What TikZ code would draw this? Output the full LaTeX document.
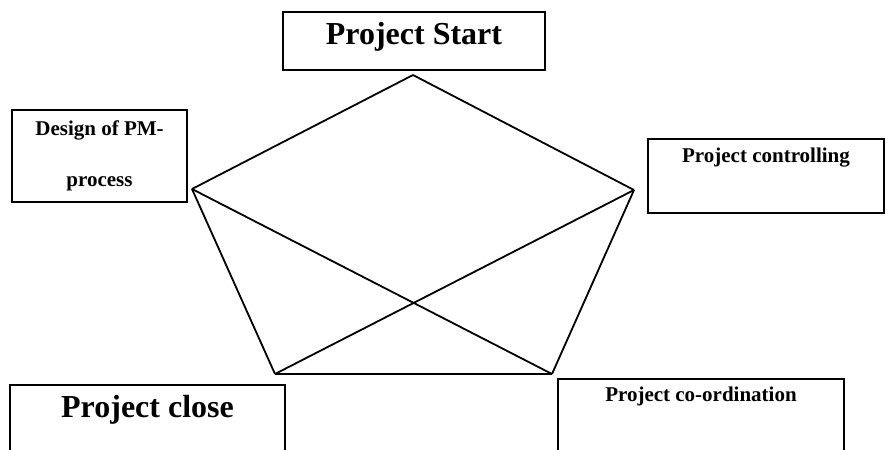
\documentclass[tikz,border=0pt]{standalone}
\usepackage{fontspec}
\setmainfont{Liberation Serif}
\begin{document}
\begin{tikzpicture}[x=1pt,y=-1pt,
  box/.style={draw, rectangle, align=center, line width=1.8pt, inner ysep=0pt},
  bigtext/.style={font=\bfseries\fontsize{32}{38}\selectfont},
  smalltext/.style={font=\bfseries\fontsize{21}{51}\selectfont},
  edge/.style={line width=1.8pt}]
\clip (0,0) rectangle (895,450);

\node[box, bigtext, anchor=north, minimum width=262pt, text height=33pt, text depth=25pt] (start) at (414,11) {Project Start};
\node[box, smalltext, minimum width=175pt, minimum height=92pt] (design) at (99.5,156) {Design of PM-\\process};
\node[box, smalltext, anchor=north, minimum width=236pt, text height=24pt, text depth=50pt] (ctrl) at (766,138) {Project controlling};
\node[box, bigtext, anchor=north, minimum width=275pt, text height=33pt, text depth=80pt] (close) at (147.5,384) {Project close};
\node[box, smalltext, anchor=north, minimum width=286pt, text height=23pt, text depth=80pt] (coord) at (701,378) {Project co-ordination};

\coordinate (top) at (413,75);
\coordinate (left) at (192,189);
\coordinate (right) at (634,190);
\coordinate (botleft) at (275,374);
\coordinate (botright) at (552,374);

\draw[edge] (top) -- (left);
\draw[edge] (top) -- (right);
\draw[edge] (left) -- (botleft);
\draw[edge] (right) -- (botright);
\draw[edge] (botleft) -- (botright);
\draw[edge] (left) -- (botright);
\draw[edge] (right) -- (botleft);
\end{tikzpicture}
\end{document}
